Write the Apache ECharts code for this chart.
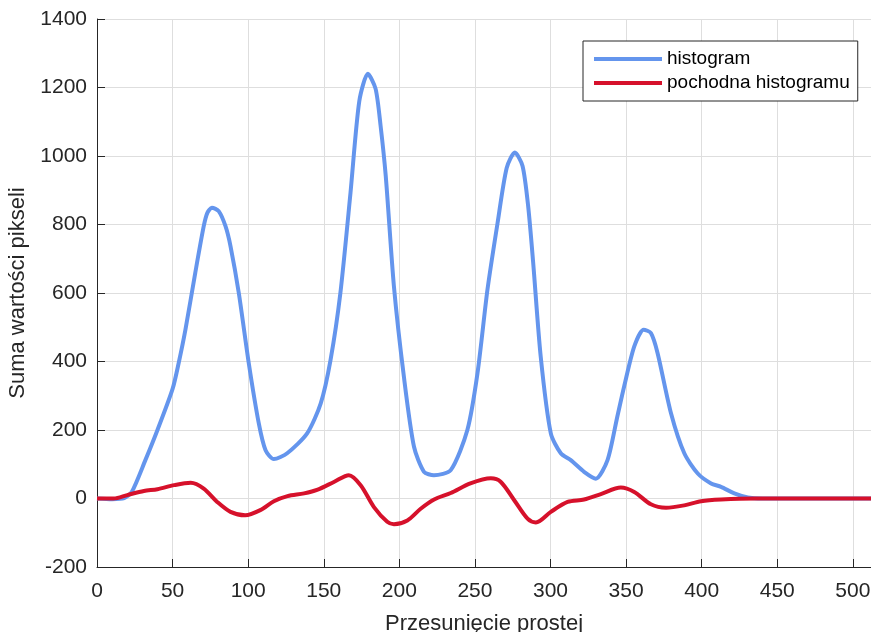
<!DOCTYPE html>
<html>
<head>
<meta charset="utf-8">
<script src="https://cdn.jsdelivr.net/npm/echarts@6/dist/echarts.min.js"></script>
<style>
  html, body { margin: 0; padding: 0; background: #fff; }
  #chart { width: 871px; height: 632px; }
</style>
</head>
<body>
<div id="chart"></div>
<script>
// Projection profile: histogram along the line offset and its derivative
const histX = [0, 10, 18, 23, 32, 40, 50, 54, 58.5, 65, 70.6, 73, 76, 80.5, 85, 88.3, 93.8, 100.4, 107, 111.5, 117,
  125.8, 139, 148, 154.5, 161, 167.7, 173.5, 179.2, 184.3, 187.6, 191, 196.4, 203, 209.7, 216.3, 222.9, 234,
  245, 251.7, 258.3, 265, 271, 276.4, 281.5, 285.2, 288.5, 293.5, 300.2, 306.8, 313.4, 322.2, 330, 337.7, 344,
  348.7, 355.4, 361.6, 366.4, 370.8, 379.7, 388.5, 397.4, 406.2, 412.8, 421.6, 430.5, 440, 512];
const histY = [0, -2, 1, 19, 112, 200, 320, 395, 493, 659, 795, 834, 849, 839, 795, 737, 600, 395, 220, 141, 115,
  132, 190, 278, 405, 600, 893, 1160, 1240, 1196, 1088, 942, 620, 356, 151, 78, 68, 83,
  200, 366, 610, 805, 965, 1010, 971, 854, 690, 415, 190, 132, 112, 78, 58, 112, 235,
  327, 444, 493, 483, 425, 249, 132, 73, 44, 34, 15, 3, 0, 0];

const derivX = [0, 11, 20, 31, 40, 51, 62, 70.6, 79.5, 88.3, 98, 108, 117, 126, 137, 146, 157, 166.6, 174.4,
  183.2, 192, 196.4, 205.3, 214.1, 223, 234, 247, 260.5, 267, 276, 284.8, 290.3, 300.2, 311.3, 322.2,
  333.3, 346.5, 355.4, 366.4, 376.4, 388.5, 399.6, 412.8, 435, 512];
const derivY = [0, 0, 10, 22, 27, 39, 46, 29, -10, -39, -49, -34, -8, 7, 15, 26, 49, 68, 39,
  -25, -68, -75, -64, -30, -3, 16, 44, 59, 49, -5, -59, -70, -39, -10, -3,
  13, 32, 19, -17, -27, -20, -8, -3, 0, 0];

const seriesNames = ['histogram', 'pochodna histogramu'];
const xTitle = 'Przesunięcie prostej';
const yTitle = 'Suma wartości pikseli';

const zip = (xs, ys) => xs.map((x, i) => [x, ys[i]]);

const font = '"Liberation Sans", Arial, Helvetica, sans-serif';
const ink = '#262626';

const chart = echarts.init(document.getElementById('chart'), null, { renderer: 'canvas' });
chart.setOption({
  animation: false,
  backgroundColor: '#ffffff',
  grid: { left: 97, right: 0, top: 19, bottom: 65, containLabel: false, outerBoundsMode: 'none' },
  legend: {
    orient: 'vertical',
    left: 583,
    top: 41,
    padding: [8, 8, 8, 11],
    itemGap: 4,
    itemWidth: 68,
    itemHeight: 4,
    icon: 'rect',
    borderColor: ink,
    borderWidth: 1,
    backgroundColor: '#ffffff',
    textStyle: { fontFamily: font, fontSize: 19, color: '#000', lineHeight: 20 },
    data: seriesNames
  },
  xAxis: {
    type: 'value',
    min: 0,
    max: 512,
    interval: 50,
    name: xTitle,
    nameLocation: 'middle',
    nameGap: 46,
    nameTextStyle: { fontFamily: font, fontSize: 22, color: ink },
    axisLine: { onZero: false, lineStyle: { color: ink, width: 1 } },
    axisTick: { inside: true, length: 8, lineStyle: { color: ink } },
    axisLabel: { fontFamily: font, fontSize: 21, color: ink, margin: 14, showMaxLabel: false,
      formatter: v => String(v) },
    splitLine: { show: true, lineStyle: { color: '#dedede', width: 1 } }
  },
  yAxis: {
    type: 'value',
    min: -200,
    max: 1400,
    interval: 200,
    name: yTitle,
    nameLocation: 'middle',
    nameGap: 64,
    nameRotate: 90,
    nameTextStyle: { fontFamily: font, fontSize: 22, color: ink },
    axisLine: { show: true, lineStyle: { color: ink, width: 1 } },
    axisTick: { show: true, inside: true, length: 8, lineStyle: { color: ink } },
    axisLabel: { fontFamily: font, fontSize: 21, color: ink, margin: 10,
      formatter: v => String(v) },
    splitLine: { show: true, lineStyle: { color: '#dedede', width: 1 } }
  },
  series: [
    {
      name: seriesNames[0],
      type: 'line',
      data: zip(histX, histY),
      smooth: 0.25,
      symbol: 'none',
      lineStyle: { color: '#6495ed', width: 4 },
      itemStyle: { color: '#6495ed' }
    },
    {
      name: seriesNames[1],
      type: 'line',
      data: zip(derivX, derivY),
      smooth: 0.3,
      symbol: 'none',
      lineStyle: { color: '#d6112b', width: 4 },
      itemStyle: { color: '#d6112b' }
    }
  ]
});
</script>
</body>
</html>
